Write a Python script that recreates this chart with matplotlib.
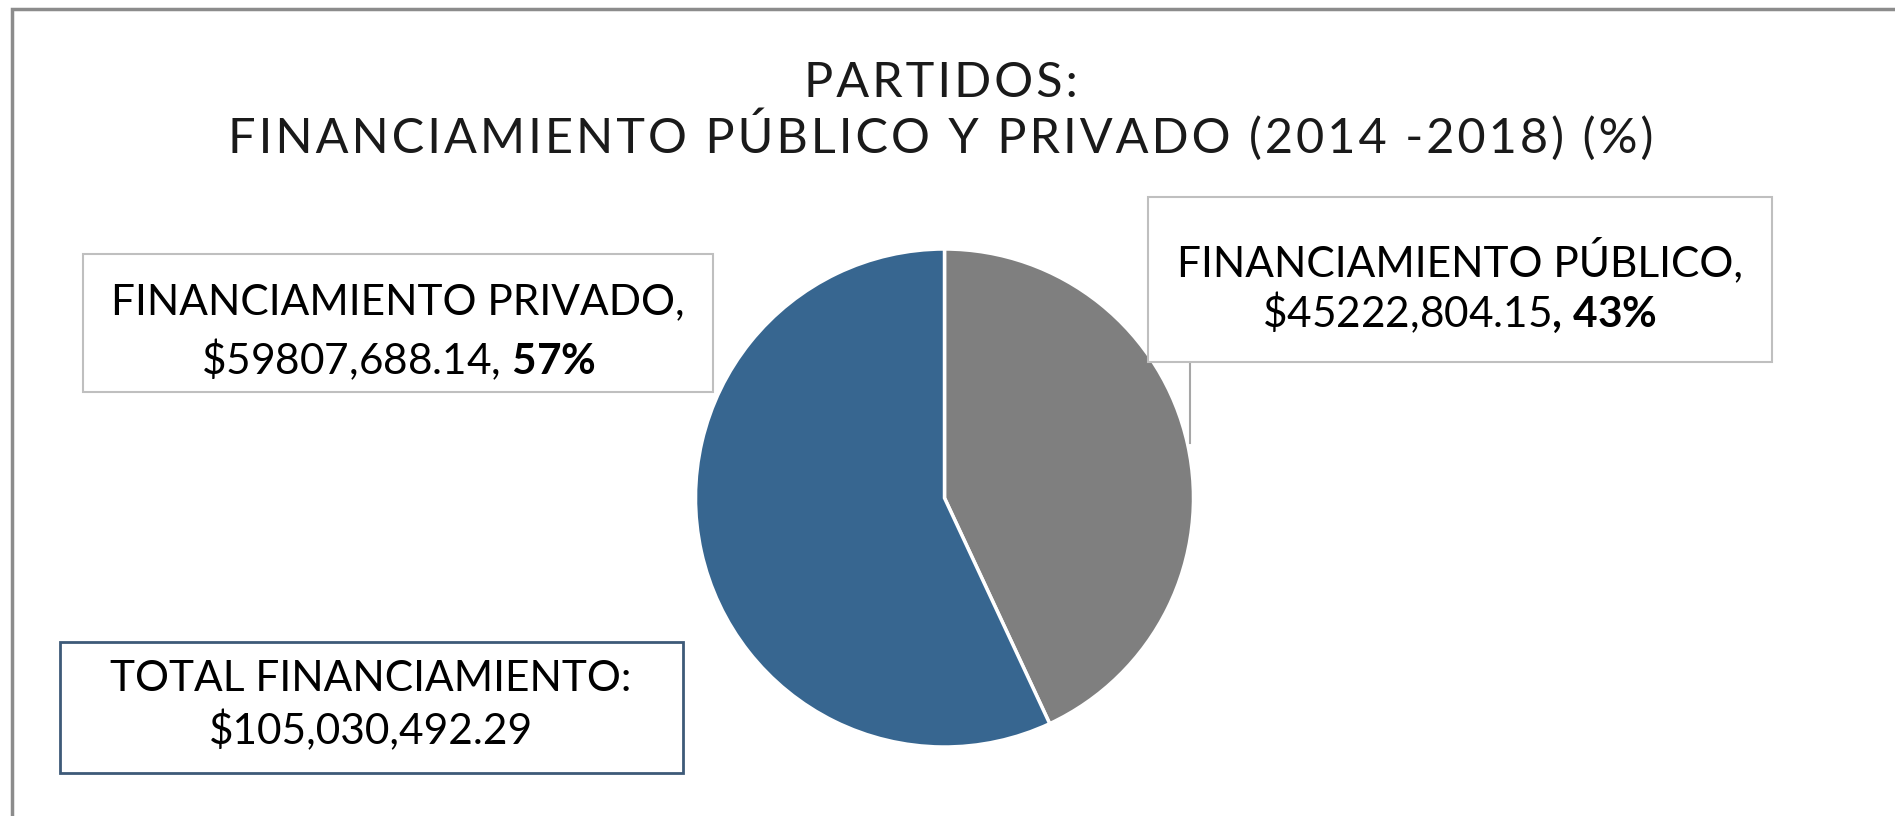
import matplotlib
matplotlib.use("Agg")
import matplotlib.pyplot as plt
from matplotlib.patches import Rectangle

# Data
categorias = ["FINANCIAMIENTO PÚBLICO", "FINANCIAMIENTO PRIVADO"]
montos = [45222804.15, 59807688.14]
montos_txt = ["$45222,804.15", "$59807,688.14"]
porcentajes = ["43%", "57%"]
total_txt = "$105,030,492.29"
titulo = ["PARTIDOS:", "FINANCIAMIENTO PÚBLICO Y PRIVADO (2014 -2018) (%)"]

colores = ["#7f7f7f", "#376690"]

plt.rcParams["font.family"] = ["Lato", "DejaVu Sans"]
plt.rcParams["mathtext.fontset"] = "custom"
plt.rcParams["mathtext.rm"] = "Lato"
plt.rcParams["mathtext.bf"] = "Lato:bold"

W, H = 1895, 816
fig = plt.figure(figsize=(W / 100, H / 100), dpi=100)

# pie axes, placed in pixel terms
cx, cy, r = 944.5, 498, 249
ax = fig.add_axes([(cx - r) / W, (H - cy - r) / H, 2 * r / W, 2 * r / H])
ax.pie(montos, colors=colores, startangle=90, counterclock=False,
       wedgeprops=dict(edgecolor="white", linewidth=2.5))
ax.set_xlim(-1, 1)
ax.set_ylim(-1, 1)
ax.set_aspect("equal")

# overlay in pixel coordinates for frame, title and label boxes
ov = fig.add_axes([0, 0, 1, 1], facecolor="none")
ov.set_xlim(0, W)
ov.set_ylim(H, 0)
ov.axis("off")

# chart frame (cut at right and bottom)
ov.plot([12, 12, W + 5], [H + 5, 9, 9], color="#8c8c8c", lw=2.5,
        solid_joinstyle="miter")

# title with some letter spacing (hair spaces)
def espaciado(s):
    return "\u200a".join(s)

ov.text(941, 83, espaciado(titulo[0]), ha="center", va="center",
        fontsize=35, color="#1a1a1a")
ov.text(941, 135, espaciado(titulo[1]), ha="center", va="center",
        fontsize=35, color="#1a1a1a")

def caja(x0, y0, x1, y1, borde, lw=1.5):
    ov.add_patch(Rectangle((x0, y0), x1 - x0, y1 - y0, facecolor="white",
                           edgecolor=borde, lw=lw, zorder=3))

def pct(p):
    return r"$\mathbf{" + p.replace("%", r"\%") + "}$"

fs = 30.5

# leader line for the public slice
ov.plot([1190, 1190], [362, 443], color="#a6a6a6", lw=1.5, zorder=2)

# private label
caja(83, 254, 713, 392, "#bfbfbf")
ov.text(398, 302, categorias[1] + ",", ha="center", va="center",
        fontsize=fs, zorder=4)
ov.text(398, 359, "\\" + montos_txt[1] + ", " + pct(porcentajes[1]),
        ha="center", va="center", fontsize=fs, zorder=4)

# public label
caja(1148, 197, 1772, 362, "#bfbfbf")
ov.text(1460, 260, categorias[0] + ",", ha="center", va="center",
        fontsize=fs, zorder=4)
ov.text(1460, 312, "\\" + montos_txt[0] + r"$\mathbf{,}$ " + pct(porcentajes[0]),
        ha="center", va="center", fontsize=fs, zorder=4)

# total box
caja(60, 642, 683, 773, "#3d5a78", lw=2)
ov.text(371, 679, "TOTAL FINANCIAMIENTO:", ha="center", va="center",
        fontsize=fs, zorder=4)
ov.text(371, 731, total_txt, ha="center", va="center", fontsize=fs, zorder=4)

plt.savefig("out.png", dpi=100)
